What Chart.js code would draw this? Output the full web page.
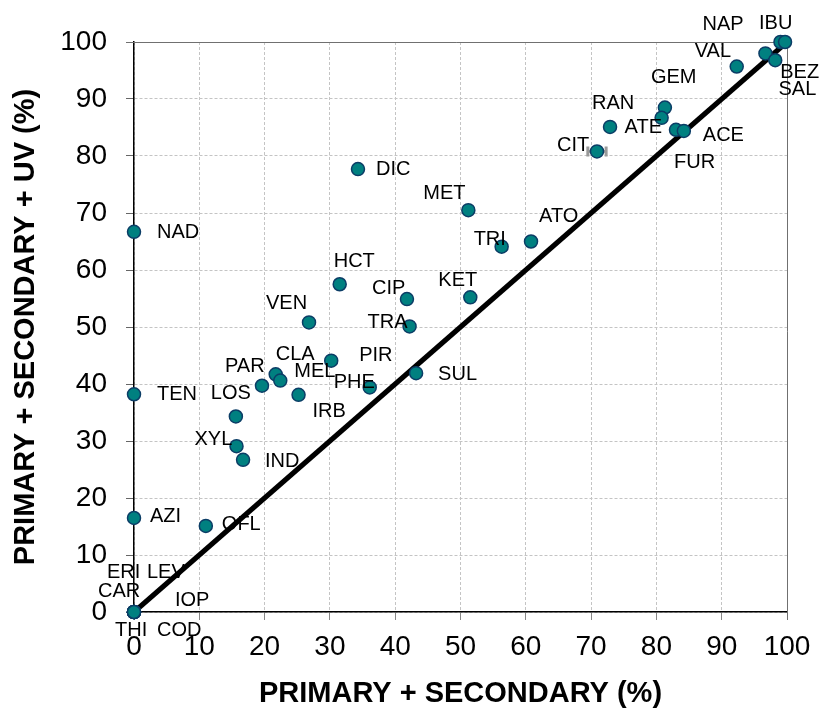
<!DOCTYPE html>
<html>
<head>
<meta charset="utf-8">
<script src="https://cdn.jsdelivr.net/npm/chart.js@4/dist/chart.umd.min.js"></script>
<style>
  html, body { margin: 0; padding: 0; background: #fff; }
  #wrap { width: 821px; height: 711px; }
</style>
</head>
<body>
<div id="wrap"><canvas id="chart" width="821" height="711"></canvas></div>
<script>
// ── Data ──
var names   = ['ERI','LEV','CAR','IOP','THI','COD',
               'NAD','TEN','AZI','OFL','XYL','IND','LOS','PAR','CLA','MEL','PIR','IRB',
               'VEN','HCT','DIC','PHE','CIP','TRA','SUL','MET','KET','TRI','ATO','CIT',
               'RAN','GEM','ATE','FUR','ACE','VAL','NAP','BEZ','SAL','IBU'];
var primSec = [0, 0, 0, 0, 0, 0,
               0, 0, 0, 11.0, 15.7, 16.7, 15.6, 19.6, 21.7, 22.4, 30.2, 25.2,
               26.8, 31.5, 34.3, 36.1, 41.8, 42.2, 43.2, 51.2, 51.5, 56.3, 60.8, 70.9,
               72.9, 81.3, 80.8, 83.0, 84.2, 92.3, 96.7, 98.2, 99.0, 99.7];
var primSecUv = [0, 0, 0, 0, 0, 0,
               66.7, 38.2, 16.5, 15.1, 29.1, 26.7, 34.3, 39.7, 41.7, 40.6, 44.1, 38.1,
               50.8, 57.5, 77.7, 39.4, 54.9, 50.1, 41.9, 70.5, 55.2, 64.1, 65.0, 80.8,
               85.1, 88.5, 86.7, 84.6, 84.4, 95.7, 98.0, 96.8, 100, 100];
// label placement, px from the marker (text left edge, text middle)
var labelDx = [-27, 13, -36, 41, -19, 23,
               23, 23, 16, 16, -42, 22, -25, -37, 0, 14, 28, 14,
               -43, -6, 18, -36, -35, -42, 22, -45, -32, -28, 8, -40,
               -18, -14, -37, -2, 19, -42, -63, 5, -2, -26];
var labelDy = [-40, -40, -21, -12, 18, 18,
               1, 0, -1, -1, -7, 2, -23, -19, -20, -9, -5, 17,
               -19, -23, 0, -5, -11, -4, 1, -17, -17, -7, -25, -6,
               -23, -30, 10, 33, 5, -15, -29, 12, 47, -19];
var errName = 'CIT';
var errX = 1.4;            // horizontal error on CIT
var ticksX = [0, 10, 20, 30, 40, 50, 60, 70, 80, 90, 100];
var ticksY = [0, 10, 20, 30, 40, 50, 60, 70, 80, 90, 100];
var lineX = [0, 100];
var lineY = [0, 100];

var FONT = '"Liberation Sans", Arial, sans-serif';

var points = primSec.map(function(x, i) { return { x: x, y: primSecUv[i] }; });

// ── Plugins ──
var labelsPlugin = {
  id: 'pointLabels',
  afterDatasetsDraw: function(chart) {
    var ctx = chart.ctx, xs = chart.scales.x, ys = chart.scales.y;
    ctx.save();
    ctx.font = '20px ' + FONT;
    ctx.fillStyle = '#000';
    ctx.textAlign = 'left';
    ctx.textBaseline = 'middle';
    names.forEach(function(n, i) {
      var px = xs.getPixelForValue(primSec[i]);
      var py = ys.getPixelForValue(primSecUv[i]);
      ctx.fillText(n, px + labelDx[i], py + labelDy[i]);
    });
    ctx.restore();
  }
};

var errorPlugin = {
  id: 'errorBar',
  beforeDatasetsDraw: function(chart) {
    var i = names.indexOf(errName);
    if (i < 0) return;
    var ctx = chart.ctx, xs = chart.scales.x, ys = chart.scales.y;
    var x1 = xs.getPixelForValue(primSec[i] - errX);
    var x2 = xs.getPixelForValue(primSec[i] + errX);
    var y = ys.getPixelForValue(primSecUv[i]);
    ctx.save();
    ctx.strokeStyle = '#9a9a9a';
    ctx.lineWidth = 3;
    ctx.beginPath();
    ctx.moveTo(x1, y); ctx.lineTo(x2, y);
    ctx.moveTo(x1, y - 5); ctx.lineTo(x1, y + 5);
    ctx.moveTo(x2, y - 5); ctx.lineTo(x2, y + 5);
    ctx.stroke();
    ctx.restore();
  }
};

var framePlugin = {
  id: 'frame',
  beforeDatasetsDraw: function(chart) {
    var a = chart.chartArea, ctx = chart.ctx;
    ctx.save();
    ctx.strokeStyle = '#707070';
    ctx.lineWidth = 1;
    ctx.beginPath();
    ctx.moveTo(a.left - 8, a.top + 0.5);
    ctx.lineTo(a.right + 0.5, a.top + 0.5);
    ctx.lineTo(a.right + 0.5, a.bottom + 8);
    ctx.stroke();
    ctx.restore();
  }
};

// ── Chart ──
var ctx = document.getElementById('chart').getContext('2d');
new Chart(ctx, {
  type: 'scatter',
  data: {
    datasets: [{
      label: 'drugs',
      data: points,
      backgroundColor: '#008080',
      borderColor: '#0b3d66',
      borderWidth: 1.5,
      pointRadius: 6.5,
      clip: false,
      order: 0
    }, {
      type: 'line',
      label: '1:1',
      data: lineX.map(function(x, i) { return { x: x, y: lineY[i] }; }),
      borderColor: '#000',
      borderWidth: 5,
      pointRadius: 0,
      fill: false,
      clip: false,
      order: 1
    }]
  },
  options: {
    responsive: false,
    animation: false,
    devicePixelRatio: 1,
    layout: { padding: { left: 0, right: 34, top: 42, bottom: 0 } },
    plugins: { legend: { display: false }, tooltip: { enabled: false } },
    scales: {
      x: {
        type: 'linear', min: 0, max: 100,
        afterBuildTicks: function(s) { s.ticks = ticksX.map(function(v) { return { value: v }; }); },
        afterFit: function(s) { s.height = 99; },
        grid: { color: '#c4c4c4', lineWidth: 1, tickLength: 8, tickColor: '#888' },
        border: { display: true, color: '#000', width: 1.5, dash: [3, 2] },
        ticks: { color: '#000', padding: 10, maxRotation: 0, font: { family: FONT, size: 28 } },
        title: {
          display: true, text: 'PRIMARY + SECONDARY (%)', color: '#000',
          padding: { top: 0, bottom: 0 },
          font: { family: FONT, size: 29, weight: 'bold' }
        }
      },
      y: {
        type: 'linear', min: 0, max: 100,
        afterBuildTicks: function(s) { s.ticks = ticksY.map(function(v) { return { value: v }; }); },
        afterFit: function(s) { s.width = 134; },
        grid: { color: '#c4c4c4', lineWidth: 1, tickLength: 8, tickColor: '#666' },
        border: { display: true, color: '#000', width: 1.5, dash: [3, 2] },
        ticks: { color: '#000', padding: 19, font: { family: FONT, size: 28 } },
        title: {
          display: true, text: 'PRIMARY + SECONDARY + UV (%)', color: '#000',
          padding: { top: 9, bottom: 0 },
          font: { family: FONT, size: 29, weight: 'bold' }
        }
      }
    }
  },
  plugins: [framePlugin, errorPlugin, labelsPlugin]
});
</script>
</body>
</html>
